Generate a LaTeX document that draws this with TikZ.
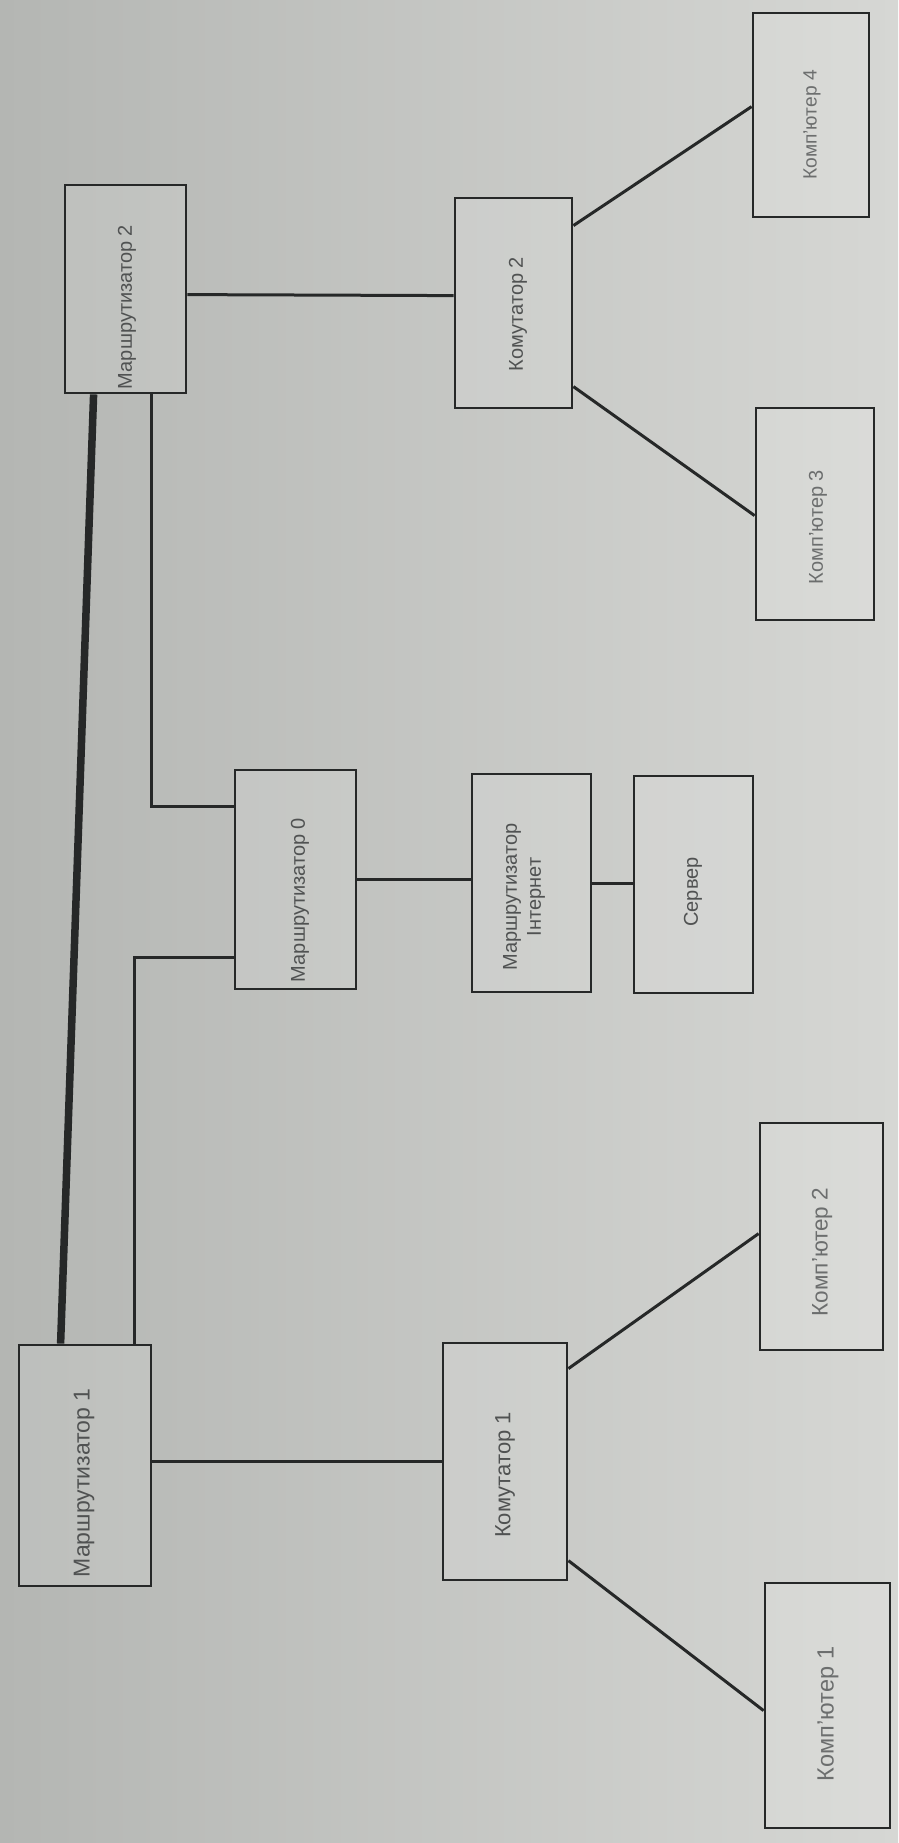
\documentclass[tikz,border=0pt]{standalone}
\usepackage{fontspec}
\setmainfont{Liberation Sans}
\usetikzlibrary{calc}

\definecolor{paperL}{RGB}{180,182,179}
\definecolor{paperR}{RGB}{214,215,212}
\definecolor{ink}{RGB}{38,40,40}
\definecolor{txt}{RGB}{80,82,82}
\definecolor{txtlight}{RGB}{108,110,110}

\tikzset{
  netbox/.style={draw=ink, line width=2.8pt, fill=white, fill opacity=0.12, inner sep=0pt},
  wire/.style={draw=ink, line width=3pt},
  trunk/.style={draw=ink, line width=7.5pt},
  lbl/.style={rotate=90, text=txt, inner sep=0pt, align=center},
  pclbl/.style={rotate=90, text=txtlight, inner sep=0pt},
  fs/.style={font=\fontsize{#1}{24}\selectfont},
}

\begin{document}
\begin{tikzpicture}[x=1pt, y=-1pt]
\useasboundingbox (0,0) rectangle (898,1843);
\shade[left color=paperL, right color=paperR] (0,0) rectangle (898,1843);

% routers
\node[netbox, minimum width=132pt, minimum height=241pt] (m1) at (85,1465.5) {};
\node[netbox, minimum width=121pt, minimum height=208pt] (m2) at (125.5,289) {};
\node[netbox, minimum width=121pt, minimum height=219pt] (m0) at (295.5,879.5) {};
\node[netbox, minimum width=119pt, minimum height=218pt] (mi) at (531.5,883) {};
\node[netbox, minimum width=119pt, minimum height=217pt] (srv) at (693.5,884.5) {};

% switches
\node[netbox, minimum width=124pt, minimum height=237pt] (k1) at (505,1461.5) {};
\node[netbox, minimum width=117pt, minimum height=210pt] (k2) at (513.5,303) {};

% computers
\node[netbox, minimum width=125pt, minimum height=245pt] (c1) at (827.5,1705.5) {};
\node[netbox, minimum width=123pt, minimum height=227pt] (c2) at (821.5,1236.5) {};
\node[netbox, minimum width=118pt, minimum height=212pt] (c3) at (815,514) {};
\node[netbox, minimum width=116pt, minimum height=204pt] (c4) at (811,115) {};

% labels
\node[lbl, fs=23] (m1t) at (84,1483) {Маршрутизатор 1};
\node[lbl, fs=20] (m2t) at (127,307) {Маршрутизатор 2};
\node[lbl, fs=20] (m0t) at (300,900) {Маршрутизатор 0};
\node[lbl, fs=20] (mit) at (524,897) {Маршрутизатор\\Інтернет};
\node[lbl, fs=20] (srvt) at (693,892) {Сервер};
\node[lbl, fs=22] (k1t) at (505,1475) {Комутатор 1};
\node[lbl, fs=20] (k2t) at (518,314) {Комутатор 2};
\node[pclbl, fs=23.5] (c1t) at (828,1714) {Комп’ютер 1};
\node[pclbl, fs=22.5] (c2t) at (822,1252) {Комп’ютер 2};
\node[pclbl, fs=20] (c3t) at (818,527) {Комп’ютер 3};
\node[pclbl, fs=19.2] (c4t) at (812,125) {Комп’ютер 4};

% trunk between the two edge routers
\draw[trunk] ($(m1.north west)+(43,0)$) -- ($(m2.south west)+(30,0)$);

% links to the central router
\draw[wire] ($(m2.south west)+(88,0)$) |- ($(m0.north west)+(0,38)$);
\draw[wire] ($(m1.north west)+(117,0)$) |- ($(m0.north west)+(0,189)$);
\draw[wire] (m0.east) -- (m0.east -| mi.west);
\draw[wire] (mi.east) -- (mi.east -| srv.west);

% routers to switches
\draw[wire] (k1.west) -- (k1.west -| m1.east);
\draw[wire] ($(k2.north west)+(0,99)$) -- ($(m2.north east)+(0,111)$);

% switches to computers
\draw[wire] ($(k1.north east)+(0,219)$) -- ($(c1.north west)+(0,129)$);
\draw[wire] ($(k1.north east)+(0,27)$) -- ($(c2.north west)+(0,112)$);
\draw[wire] ($(k2.north east)+(0,29)$) -- ($(c4.north west)+(0,95)$);
\draw[wire] ($(k2.north east)+(0,190)$) -- ($(c3.north west)+(0,109)$);
\end{tikzpicture}
\end{document}
